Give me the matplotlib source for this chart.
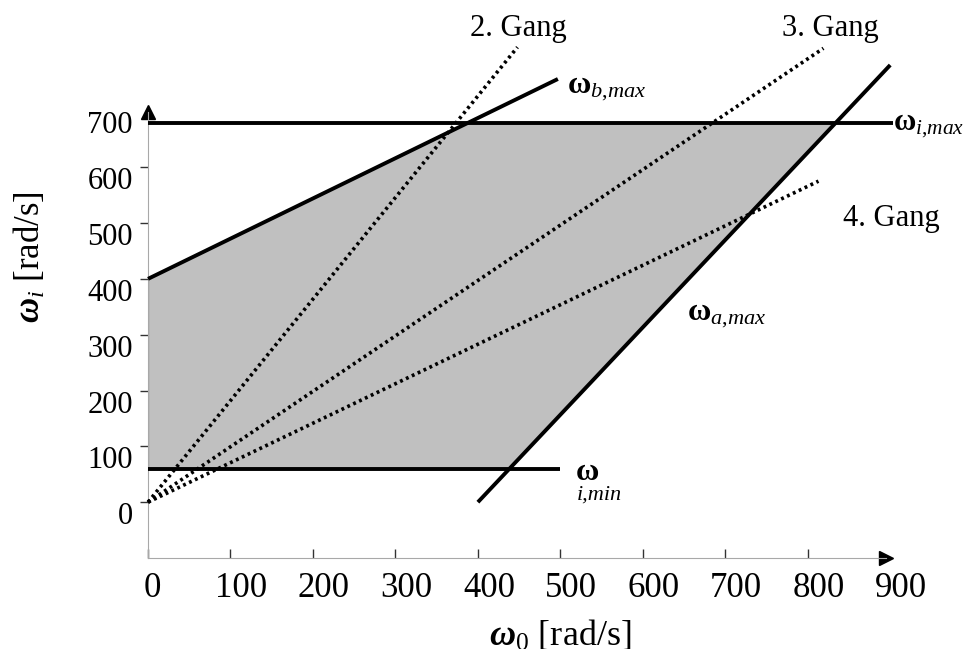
import matplotlib
matplotlib.use("Agg")
import matplotlib.pyplot as plt
import matplotlib.transforms as mtransforms

plt.rcParams['font.family'] = ['Liberation Serif', 'DejaVu Serif']
plt.rcParams['mathtext.fontset'] = 'custom'
plt.rcParams['mathtext.rm'] = 'Liberation Serif'
plt.rcParams['mathtext.it'] = 'Liberation Serif:italic'
plt.rcParams['mathtext.bf'] = 'Liberation Serif:bold'
plt.rcParams['mathtext.bfit'] = 'Liberation Serif:bold:italic'

# boundary lines of the operating range
b_max_x = [0, 497]
b_max_y = [400, 758]
a_max_x = [400, 900]
a_max_y = [0, 783]
i_max_x = [0, 903]
i_max_y = [680, 680]
i_min_x = [0, 500]
i_min_y = [60, 60]

# gear ratio lines (start at origin)
gear_names = ["2. Gang", "3. Gang", "4. Gang"]
gear_end_x = [448, 819, 813]
gear_end_y = [815, 813, 575]

x_ticks = [0, 100, 200, 300, 400, 500, 600, 700, 800, 900]
y_ticks = [0, 100, 200, 300, 400, 500, 600, 700]


def slope(xs, ys):
    return (ys[1] - ys[0]) / (xs[1] - xs[0])


fig = plt.figure(figsize=(9.70, 6.49), dpi=100)
ax = fig.add_axes([0.1526, 0.1402, 0.7694, 0.6968])
ax.set_xlim(0, 905)
ax.set_ylim(-100, 710)

# shaded area: corners from the intersections of the boundary lines
kb = slope(b_max_x, b_max_y)
ka = slope(a_max_x, a_max_y)
top = i_max_y[0]
bottom = i_min_y[0]
poly_x = [0, 0, (top - b_max_y[0]) / kb,
          a_max_x[0] + (top - a_max_y[0]) / ka,
          a_max_x[0] + (bottom - a_max_y[0]) / ka]
poly_y = [bottom, b_max_y[0], top, top, bottom]
ax.fill(poly_x, poly_y, color='#c0c0c0', lw=0, zorder=1)
ax.plot([0, 0], [bottom, b_max_y[0]], color='black', lw=1.5, zorder=2)

# gear lines
for ex, ey in zip(gear_end_x, gear_end_y):
    ax.plot([0, ex], [0, ey], color='black', lw=2.6,
            linestyle=(0, (0.8, 1.0)), clip_on=False, zorder=3)

for xs, ys in [(b_max_x, b_max_y), (a_max_x, a_max_y),
               (i_max_x, i_max_y), (i_min_x, i_min_y)]:
    ax.plot(xs, ys, color='black', lw=2.8, clip_on=False, zorder=4,
            solid_capstyle='butt')

# axes look
for side in ['top', 'right']:
    ax.spines[side].set_visible(False)
ax.spines['left'].set_color('#a8a8a8')
ax.spines['bottom'].set_color('#a8a8a8')
ax.spines['left'].set_bounds(-100, 698)
ax.spines['bottom'].set_bounds(0, 895)
ax.plot(895, -100, '>', color='black', markersize=10, clip_on=False)
ax.plot(0, 698, '^', color='black', markersize=10, clip_on=False)

ax.set_xticks(x_ticks)
ax.set_yticks(y_ticks)
ax.set_xticklabels([str(v) for v in x_ticks])
ax.set_yticklabels([str(v) for v in y_ticks])
ax.tick_params(axis='x', direction='in', length=6.5, width=1, color='#333333',
               labelsize=25, pad=10)
ax.tick_params(axis='y', direction='out', length=6, width=1, color='#333333',
               labelsize=22, pad=5)
ax.xaxis.get_major_ticks()[-1].tick1line.set_visible(False)
ax.yaxis.get_major_ticks()[-1].tick1line.set_visible(False)

# labels in the original sit a bit off their ticks
for i, lab in enumerate(ax.get_xticklabels()):
    shift = 4 if i == 0 else 11
    dx = mtransforms.ScaledTranslation(shift / 100, 0, fig.dpi_scale_trans)
    lab.set_transform(lab.get_transform() + dx)
dy = mtransforms.ScaledTranslation(0, -11 / 100, fig.dpi_scale_trans)
for lab in ax.get_yticklabels():
    lab.set_transform(lab.get_transform() + dy)

fig.text(30 / 970, 1 - 257 / 649, r'$\mathbfit{\omega}_i$ [rad/s]', rotation=90,
         ha='center', va='center', fontsize=25)
fig.text(560 / 970, 1 - 619 / 649, r'$\mathbfit{\omega}_0$ [rad/s]',
         ha='center', va='top', fontsize=26)

# gear names
gear_label_x = [449, 828, 902]
gear_label_y = [849, 849, 508]
for name, lx, ly in zip(gear_names, gear_label_x, gear_label_y):
    ax.text(lx, ly, name, ha='center', va='center', fontsize=22)

# boundary names
ax.text(508, 733, r'$\mathbf{\omega}_{\mathit{b{,}max}}$', fontsize=23, va='baseline')
ax.text(903, 666, r'$\mathbf{\omega}_{\mathit{i{,}max}}$', fontsize=22, va='baseline')
ax.text(654, 326, r'$\mathbf{\omega}_{\mathit{a{,}max}}$', fontsize=23, va='baseline')
ax.text(518, 40, r'$\mathbf{\omega}$', fontsize=23, va='baseline')
ax.text(520, 4, 'i,min', fontsize=16, style='italic', va='baseline')

fig.savefig('out.png', dpi=100)
